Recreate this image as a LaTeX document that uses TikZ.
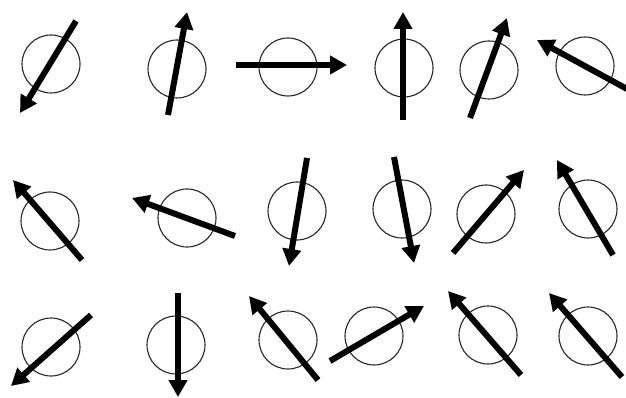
\documentclass[tikz,border=0pt]{standalone}
\usetikzlibrary{arrows.meta}
\begin{document}
\begin{tikzpicture}[x=1pt,y=-1pt,
  spinring/.style={circle,draw=black!85,line width=1.1pt,minimum size=58pt,inner sep=0pt},
  spinarrow/.style={line width=6pt,-{Triangle[width=18pt,length=17pt]},black}]
\useasboundingbox (0,0) rectangle (626,398);
\clip (0,0) rectangle (626,398);
\foreach \n/\cx/\cy/\ax/\ay/\bx/\by in {
  1/51/64/76/21/20/113,
  2/177/69/168/115/187/12,
  3/288/67/236/65/347/65,
  4/404/68/403/120/403/12,
  5/489/70/470/118/507/18,
  6/585/66/640/96/537/40,
  7/50/221/82/260/13/180,
  8/187/218/235/236/132/198,
  9/297/211/307/158/289/266,
  10/402/209/394/157/414/263,
  11/486/214/453/253/524/170,
  12/588/209/613/255/557/160,
  13/51/347/91/315/11/386,
  14/176/345/178/293/178/397,
  15/288/340/318/380/249/296,
  16/374/336/330/361/424/306,
  17/488/335/521/375/448/291,
  18/588/336/622/377/549/293}{
  \node[spinring] (ring\n) at (\cx,\cy) {};
  \coordinate (tail\n) at (\ax,\ay);
  \coordinate (tip\n) at (\bx,\by);
  \draw[spinarrow] (tail\n) -- (tip\n);
}
\end{tikzpicture}
\end{document}
